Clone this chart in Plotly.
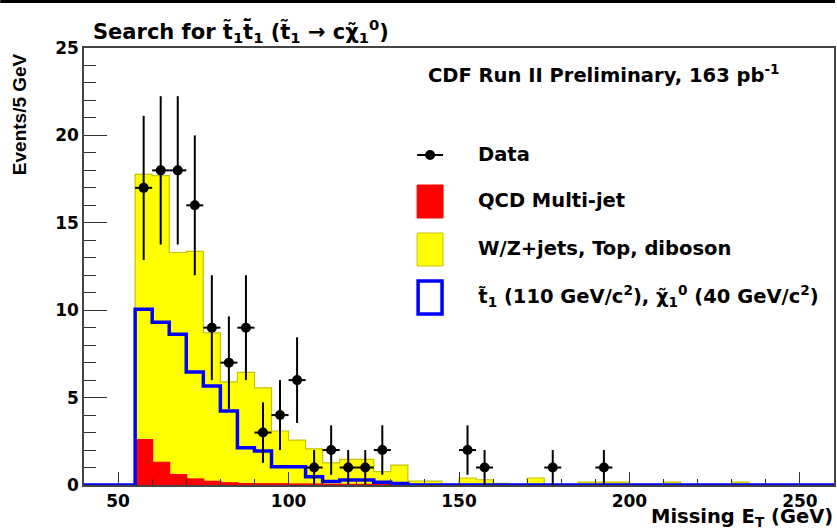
import numpy as np
import plotly.graph_objects as go

# ---------------- data ----------------
# 5 GeV bins, lower edges 40 ... 255 (upper edge of last bin 260)
bin_edges = list(range(40, 265, 5))

# QCD multi-jet (red), per bin
qcd = [0, 0, 0, 2.57, 1.27, 0.57, 0.32, 0.19, 0.10, 0.06,
       0.05, 0.04, 0.03, 0.03, 0.02, 0.02, 0.02, 0.02, 0.01, 0.01,
       0, 0, 0, 0, 0, 0, 0, 0, 0, 0,
       0, 0, 0, 0, 0, 0, 0, 0, 0, 0,
       0, 0, 0, 0]

# W/Z+jets, Top, diboson (yellow, stacked on QCD)
ewk = [0, 0, 0, 15.20, 16.43, 12.73, 13.05, 8.51, 5.80, 6.38,
       5.51, 3.05, 2.54, 2.04, 1.25, 1.45, 1.45, 0.74, 1.13, 0.22,
       0.22, 0, 0.40, 0.30, 0.10, 0, 0.40, 0, 0, 0.17,
       0.17, 0.17, 0, 0, 0.17, 0, 0, 0, 0.17, 0,
       0, 0, 0, 0]

# stop signal (blue outline)
signal = [0, 0, 0, 10.06, 9.31, 8.63, 6.47, 5.66, 4.23, 2.13,
          1.94, 1.05, 1.05, 0.47, 0.20, 0.28, 0.28, 0.16, 0.08, 0,
          0, 0, 0, 0, 0, 0, 0, 0, 0, 0,
          0, 0, 0, 0, 0, 0, 0, 0, 0, 0,
          0, 0, 0, 0]

# data points (bin centres, counts)
data_x = [57.5, 62.5, 67.5, 72.5, 77.5, 82.5, 87.5, 92.5, 97.5, 102.5,
          107.5, 112.5, 117.5, 122.5, 127.5, 152.5, 157.5, 177.5, 192.5]
data_n = [17, 18, 18, 16, 9, 7, 9, 3, 4, 6,
          1, 2, 1, 1, 2, 2, 1, 1, 1]

x_ticks = [50, 100, 150, 200, 250]
y_ticks = [0, 5, 10, 15, 20, 25]

# ---------------- figure ----------------
W, H = 837, 530
ML, MR, MT, MB = 84, 1, 48, 45
PW, PH = W - ML - MR, H - MT - MB


def px(xp):
    return (xp - ML) / PW


def py(yp):
    return (H - MB - yp) / PH


FONT = "DejaVu Sans, Verdana, sans-serif"
FONT_NARROW = "Liberation Sans, Arial, Helvetica, sans-serif"


def step(vals):
    return list(vals) + [vals[-1]]


fig = go.Figure()

fig.add_trace(go.Scatter(
    x=bin_edges, y=step(qcd), stackgroup="bkg", line_shape="hv",
    mode="lines", line=dict(color="#ff0000", width=1.5),
    fillcolor="#ff0000", showlegend=False, hoverinfo="skip"))
fig.add_trace(go.Scatter(
    x=bin_edges, y=step(ewk), stackgroup="bkg", line_shape="hv",
    mode="lines", line=dict(color="#c4c400", width=1.2),
    fillcolor="#ffff00", showlegend=False, hoverinfo="skip"))
# redraw the QCD on top so it stays visible
fig.add_trace(go.Scatter(
    x=bin_edges, y=step(qcd), line_shape="hv", mode="lines",
    line=dict(color="#ff0000", width=2), fill="tozeroy",
    fillcolor="#ff0000", showlegend=False, hoverinfo="skip"))
fig.add_trace(go.Scatter(
    x=bin_edges, y=step(signal), line_shape="hv", mode="lines",
    line=dict(color="#0000ff", width=3.5), showlegend=False,
    hoverinfo="skip"))
fig.add_trace(go.Scatter(
    x=data_x, y=data_n, mode="markers",
    marker=dict(color="black", size=10),
    error_y=dict(type="data", array=list(np.sqrt(data_n)), width=0,
                 thickness=2, color="black"),
    error_x=dict(type="constant", value=2.5, width=0, thickness=2,
                 color="black"),
    showlegend=False, hoverinfo="skip"))

axis_common = dict(
    showline=True, mirror=True, linecolor="#444444", linewidth=1.5,
    ticks="inside", tickcolor="#333333", tickwidth=1.3,
    showgrid=False, zeroline=False,
    tickfont=dict(family=FONT, size=17, color="black", weight="bold"),
)

fig.update_xaxes(range=[40, 260], tickvals=x_ticks, ticklen=13,
                 minor=dict(ticks="inside", dtick=10, ticklen=6.5,
                            tickcolor="#333333", tickwidth=1.3),
                 **axis_common)
fig.update_yaxes(range=[0, 25], tickvals=y_ticks, ticklen=23,
                 minor=dict(ticks="inside", dtick=1, ticklen=12,
                            tickcolor="#333333", tickwidth=1.3),
                 **axis_common)

anns = []
shapes = []

# title
anns.append(dict(
    text="Search for t\u0303<sub>1</sub>t\u0304\u0303<sub>1</sub> "
         "(t\u0303<sub>1</sub> \u2192 c\u03c7\u0303<sub>1</sub><sup>0</sup>)",
    xref="paper", yref="paper", x=px(91), y=py(31), xanchor="left",
    yanchor="middle", showarrow=False,
    font=dict(family=FONT, size=21, color="black", weight="bold")))

# y axis title
anns.append(dict(
    text="Events/5 GeV", textangle=-90, xref="paper", yref="paper",
    x=px(20), y=py(114), xanchor="center", yanchor="middle",
    showarrow=False,
    font=dict(family=FONT_NARROW, size=19, color="black", weight="bold")))

# x axis title
anns.append(dict(
    text="Missing E<sub>T</sub> (GeV)", xref="paper", yref="paper",
    x=px(836), y=py(517.5), xanchor="right", yanchor="middle",
    showarrow=False, borderpad=0,
    font=dict(family=FONT, size=19.5, color="black", weight="bold")))

# CDF label
anns.append(dict(
    text="CDF Run II Preliminary, 163 pb<sup>-1</sup>", xref="paper",
    yref="paper", x=px(427), y=py(74), xanchor="left", yanchor="middle",
    showarrow=False,
    font=dict(family=FONT, size=19.5, color="black", weight="bold")))

# legend
leg_font = dict(family=FONT, size=19.5, color="black", weight="bold")
leg_items = [
    ("Data", 154),
    ("QCD Multi-jet", 200),
    ("W/Z+jets, Top, diboson", 249),
    ("t\u0303<sub>1</sub> (110 GeV/c<sup>2</sup>), "
     "\u03c7\u0303<sub>1</sub><sup>0</sup> (40 GeV/c<sup>2</sup>)", 296),
]
for txt, yy in leg_items:
    anns.append(dict(text=txt, xref="paper", yref="paper", x=px(477),
                     y=py(yy), xanchor="left", yanchor="middle",
                     showarrow=False, font=leg_font))

# legend symbols
shapes.append(dict(type="line", xref="paper", yref="paper",
                   x0=px(418), x1=px(444), y0=py(155), y1=py(155),
                   line=dict(color="black", width=2)))
shapes.append(dict(type="circle", xref="paper", yref="paper",
                   x0=px(426), x1=px(436), y0=py(150), y1=py(160),
                   fillcolor="black", line=dict(color="black", width=0)))
shapes.append(dict(type="rect", xref="paper", yref="paper",
                   x0=px(418), x1=px(444), y0=py(185), y1=py(218),
                   fillcolor="#ff0000", line=dict(color="#ff0000", width=1)))
shapes.append(dict(type="rect", xref="paper", yref="paper",
                   x0=px(418), x1=px(444), y0=py(233), y1=py(266),
                   fillcolor="#ffff00", line=dict(color="#c4c400", width=1)))
shapes.append(dict(type="rect", xref="paper", yref="paper",
                   x0=px(419), x1=px(443), y0=py(281), y1=py(314),
                   fillcolor="white", line=dict(color="#0000ff", width=3.5)))

# top border band of the image
shapes.append(dict(type="rect", xref="paper", yref="paper",
                   x0=px(0), x1=px(W), y0=py(3), y1=py(0),
                   fillcolor="black", line=dict(width=0)))

fig.update_layout(
    width=W, height=H,
    margin=dict(l=ML, r=MR, t=MT, b=MB, pad=0),
    paper_bgcolor="white", plot_bgcolor="white",
    font=dict(family=FONT, color="black"),
    annotations=anns, shapes=shapes, showlegend=False,
)

fig.write_html("out.html")
